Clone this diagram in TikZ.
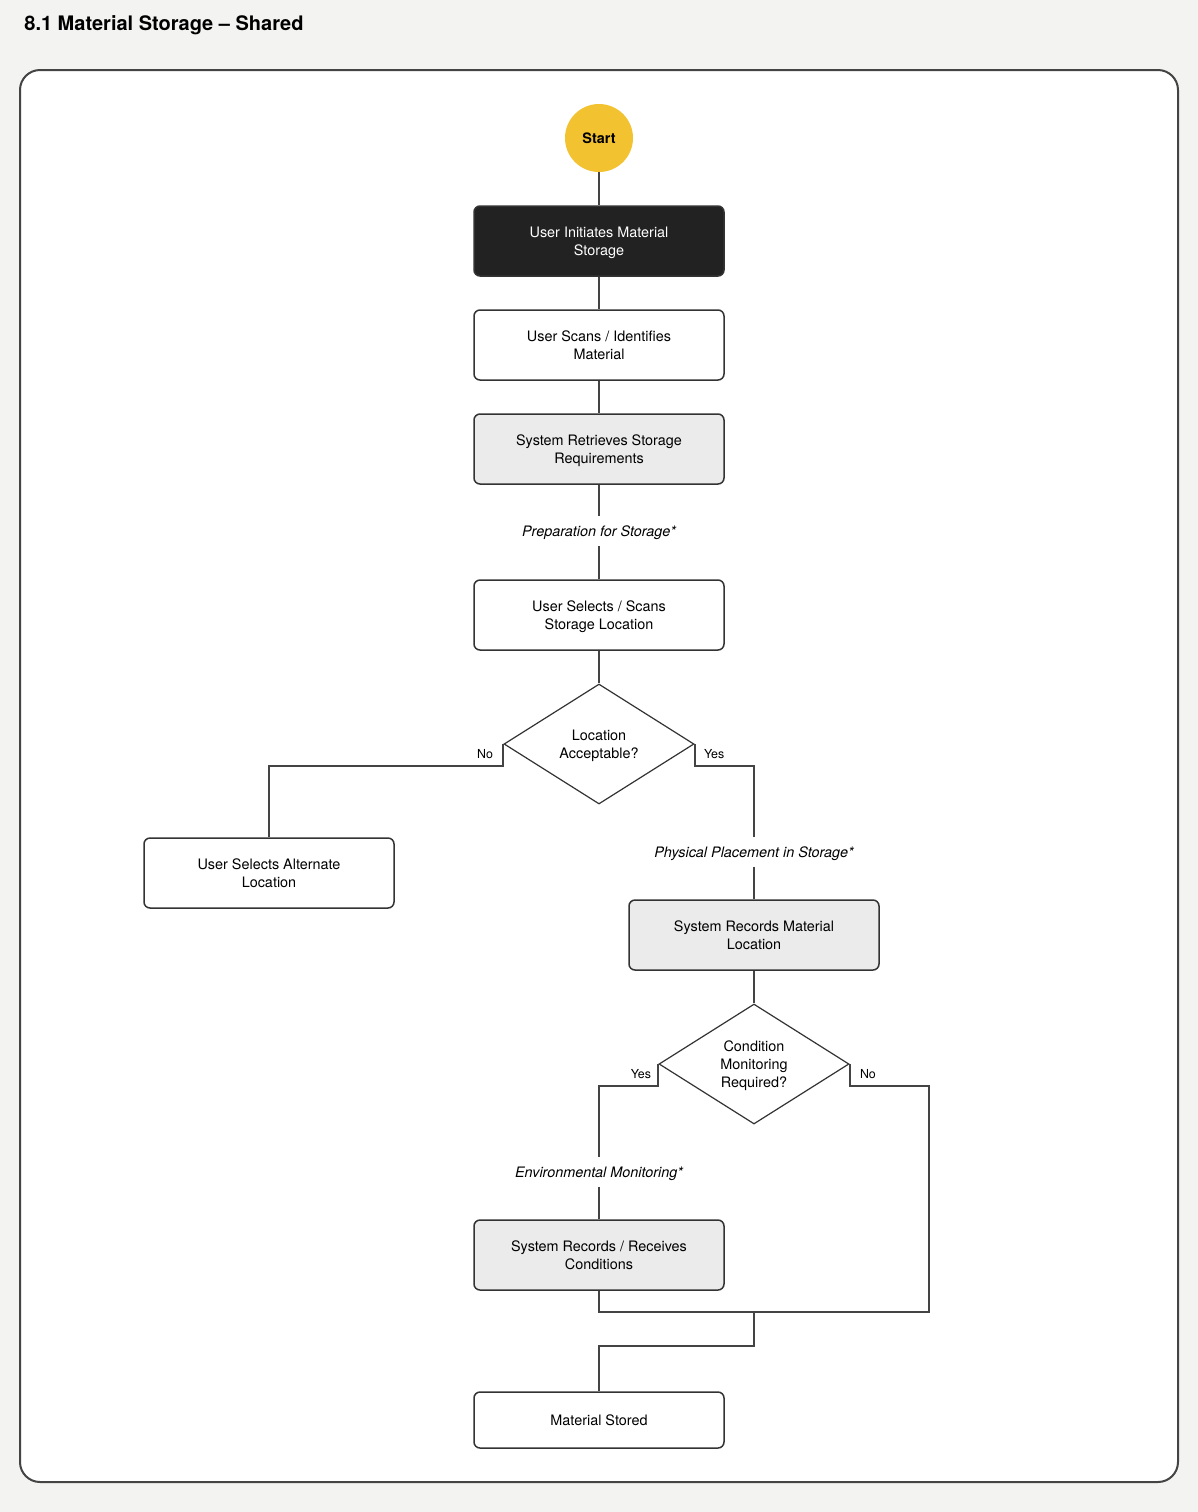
\documentclass[tikz,border=0pt]{standalone}
\usepackage{fontspec}
\setmainfont{TeX Gyre Heros}
\usepackage{xcolor}
\usetikzlibrary{shapes.geometric}
\definecolor{pagebg}{HTML}{F3F3F1}
\definecolor{linegray}{HTML}{444444}
\definecolor{boxline}{HTML}{333333}
\definecolor{sysfill}{HTML}{EBEBEB}
\definecolor{userdark}{HTML}{222222}
\definecolor{startyellow}{HTML}{F2C230}
\begin{document}
\begin{tikzpicture}[x=0.5pt,y=-0.5pt,
  proc/.style={rectangle,rounded corners=3pt,draw=boxline,line width=0.75pt,fill=white,
    minimum width=125pt,minimum height=35pt,align=center,inner sep=0pt,text depth=0pt,
    font=\fontsize{7.2}{9}\selectfont},
  sysproc/.style={proc,fill=sysfill},
  darkproc/.style={proc,fill=userdark,text=white},
  decide/.style={diamond,draw=boxline,line width=0.6pt,fill=white,aspect=1.5833,
    minimum width=95pt,minimum height=60pt,inner sep=0pt,align=center,text depth=0pt,
    font=\fontsize{7.2}{9}\selectfont},
  sublabel/.style={inner sep=0pt,minimum height=14.5pt,text depth=0pt,font=\fontsize{7.2}{9}\selectfont\itshape},
  yesno/.style={inner sep=0pt,font=\fontsize{6.2}{7}\selectfont},
  conn/.style={draw=linegray,line width=1pt}]
\useasboundingbox (0,0) rectangle (1198,1512);
\fill[pagebg] (0,0) rectangle (1198,1512);
\draw[linegray,line width=1pt,fill=white,rounded corners=10pt] (20,70) rectangle (1178,1482);
\node[anchor=west,inner sep=0pt,font=\fontsize{10}{12}\selectfont\bfseries] (title) at (24,25) {8.1 Material Storage -- Shared};

\node[circle,fill=startyellow,minimum size=34pt,inner sep=0pt,font=\fontsize{7.2}{9}\selectfont\bfseries] (start) at (599,138) {Start};
\node[darkproc] (init) at (599,241) {User Initiates Material\\Storage};
\node[proc] (scan) at (599,345) {User Scans / Identifies\\Material};
\node[sysproc] (retr) at (599,449) {System Retrieves Storage\\Requirements};
\node[sublabel] (prep) at (599,531) {Preparation for Storage*};
\node[proc] (sel) at (599,615) {User Selects / Scans\\Storage Location};
\node[decide] (loc) at (599,744) {Location\\Acceptable?};
\node[proc] (alt) at (269,873) {User Selects Alternate\\Location};
\node[sublabel] (phys) at (754,852) {Physical Placement in Storage*};
\node[sysproc] (rec) at (754,935) {System Records Material\\Location};
\node[decide] (cond) at (754,1064) {Condition\\Monitoring\\Required?};
\node[sublabel] (env) at (599,1172) {Environmental Monitoring*};
\node[sysproc] (recv) at (599,1255) {System Records / Receives\\Conditions};
\node[proc,minimum height=28pt] (stored) at (599,1420) {Material Stored};
\coordinate (noturn) at (929,1312);
\coordinate (merge) at (754,1312);

\node[yesno,anchor=east] (locno) at ([shift={(-10,10)}]loc.west) {No};
\node[yesno,anchor=west] (locyes) at ([shift={(9,10)}]loc.east) {Yes};
\node[yesno,anchor=east] (condyes) at ([shift={(-7,10)}]cond.west) {Yes};
\node[yesno,anchor=west] (condno) at ([shift={(10,10)}]cond.east) {No};

\draw[conn] (start) -- (init);
\draw[conn] (init) -- (scan);
\draw[conn] (scan) -- (retr);
\draw[conn] (retr) -- (prep);
\draw[conn] (prep) -- (sel);
\draw[conn] (sel) -- (loc);
\draw[conn] (loc.west) -- ++(0,22) -| (alt);
\draw[conn] (loc.east) -- ++(0,22) -| (phys);
\draw[conn] (phys) -- (rec);
\draw[conn] (rec) -- (cond);
\draw[conn] (cond.west) -- ++(0,22) -| (env);
\draw[conn] (env) -- (recv);
\draw[conn] (cond.east) -- ++(0,22) -| (noturn) -- (merge);
\draw[conn] (recv) |- (merge);
\draw[conn] (merge) -- ++(0,34) -| (stored);
\end{tikzpicture}
\end{document}
